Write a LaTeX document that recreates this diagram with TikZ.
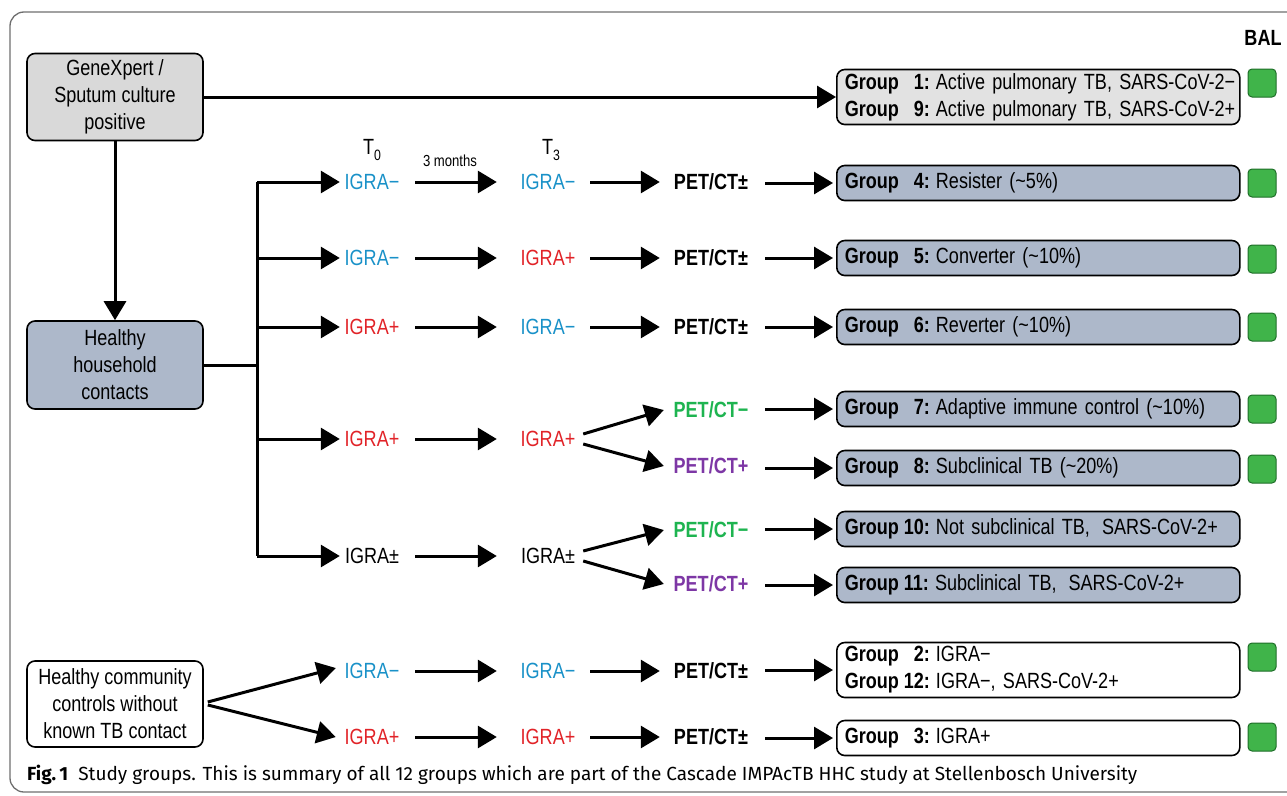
\documentclass[tikz,border=0pt]{standalone}
\usepackage{fontspec}
\setmainfont[FakeStretch=0.82]{Liberation Sans}
\newfontfamily\capfont{Fira Sans}
\usetikzlibrary{arrows.meta}
\definecolor{gfill}{RGB}{173,184,202}
\definecolor{gxfill}{RGB}{217,217,217}
\definecolor{g1fill}{RGB}{226,226,226}
\definecolor{balgreen}{RGB}{64,180,74}
\definecolor{baldark}{RGB}{30,110,40}
\definecolor{igneg}{RGB}{25,145,200}
\definecolor{igpos}{RGB}{225,35,40}
\definecolor{petneg}{RGB}{30,180,80}
\definecolor{petpos}{RGB}{125,55,165}
\definecolor{framec}{RGB}{110,110,110}
% one-digit and two-digit group labels
\newcommand{\gone}[1]{\hspace*{4pt}\textbf{Group\kern15pt#1:}\kern6pt}
\newcommand{\gtwo}[1]{\hspace*{4pt}\textbf{Group\kern5pt#1:}\kern6pt}
\newcommand{\mfont}{\fontsize{22}{27}\selectfont\spaceskip=5pt plus 1pt minus 1pt\relax}
\tikzset{
  x=1pt, y=-1pt,
  every node/.style={font=\mfont, inner sep=0pt},
  srcbox/.style={draw, line width=1.6pt, rounded corners=8pt, align=center, minimum width=176pt},
  gbox/.style={draw, line width=1.6pt, rounded corners=8pt, anchor=west, text width=395pt, inner xsep=4pt, align=left, minimum height=35pt, fill=gfill},
  balbox/.style={draw=baldark, fill=balgreen, line width=1pt, rounded corners=4pt, minimum size=28pt},
  lbl/.style={minimum width=60pt},
  pet/.style={minimum width=80pt, font=\mfont\bfseries},
  ln/.style={line width=3pt},
  arr/.style={line width=3pt, -{Triangle[length=19pt,width=22pt]}},
}
\begin{document}
\begin{tikzpicture}
\useasboundingbox (0,0) rectangle (1287,795);
\clip (0,0) rectangle (1287,795);
\draw[framec, line width=1.3pt, rounded corners=14pt] (10,12) rectangle (1320,792);
\node[font=\mfont\bfseries] (bal) at (1263,38) {BAL};

% source boxes
\node[srcbox, fill=gxfill, minimum height=87pt] (gx) at (115,97) {GeneXpert /\\Sputum culture\\positive};
\node[srcbox, fill=gfill, minimum height=88pt] (hh) at (115,365) {Healthy\\household\\contacts};
\node[srcbox, fill=white, minimum height=86pt] (hc) at (115,704) {Healthy community\\controls without\\known TB contact};

% group boxes
\node[gbox, fill=g1fill, minimum height=55pt] (g1) at (836,97) {\gone{1}Active pulmonary TB, SARS-CoV-2−\\\gone{9}Active pulmonary TB, SARS-CoV-2+};
\node[gbox] (g4) at (836,183) {\gone{4}Resister (\textasciitilde5\%)};
\node[gbox] (g5) at (836,258) {\gone{5}Converter (\textasciitilde10\%)};
\node[gbox] (g6) at (836,327) {\gone{6}Reverter (\textasciitilde10\%)};
\node[gbox] (g7) at (836,409) {\gone{7}Adaptive immune control (\textasciitilde10\%)};
\node[gbox] (g8) at (836,468) {\gone{8}Subclinical TB (\textasciitilde20\%)};
\node[gbox] (g10) at (836,529) {\gtwo{10}Not subclinical TB,\kern12pt SARS-CoV-2+};
\node[gbox] (g11) at (836,585) {\gtwo{11}Subclinical TB,\kern12pt SARS-CoV-2+};
\node[gbox, fill=white, minimum height=55pt] (g2) at (836,670) {\gone{2}IGRA−\\\gtwo{12}IGRA−, SARS-CoV-2+};
\node[gbox, fill=white] (g3) at (836,738) {\gone{3}IGRA+};

% BAL squares
\node[balbox] (b1) at (1262,83) {};
\node[balbox] (b4) at (1262,183) {};
\node[balbox] (b5) at (1262,259) {};
\node[balbox] (b6) at (1262,327) {};
\node[balbox] (b7) at (1262,409) {};
\node[balbox] (b8) at (1262,469) {};
\node[balbox] (b2) at (1262,657) {};
\node[balbox] (b3) at (1262,737) {};

% headings
\node (t0) at (372,150) {T\raisebox{-0.45ex}{\fontsize{15}{15}\selectfont 0}};
\node (t3) at (551,150) {T\raisebox{-0.45ex}{\fontsize{15}{15}\selectfont 3}};
\node[font=\fontsize{16}{18}\selectfont] (mo) at (450,161) {3 months};

% row labels
\node[lbl, text=igneg] (a1) at (372,182) {IGRA−};
\node[lbl, text=igneg] (a2) at (548,182) {IGRA−};
\node[pet] (a3) at (711,182) {PET/CT±};
\node[lbl, text=igneg] (r1) at (372,258) {IGRA−};
\node[lbl, text=igpos] (r2) at (548,258) {IGRA+};
\node[pet] (r3) at (711,258) {PET/CT±};
\node[lbl, text=igpos] (c1) at (372,327) {IGRA+};
\node[lbl, text=igneg] (c2) at (548,327) {IGRA−};
\node[pet] (c3) at (711,327) {PET/CT±};
\node[lbl, text=igpos] (d1) at (372,439) {IGRA+};
\node[lbl, text=igpos] (d2) at (548,439) {IGRA+};
\node[pet, text=petneg] (d3) at (711,410) {PET/CT−};
\node[pet, text=petpos] (d4) at (711,466) {PET/CT+};
\node[lbl] (e1) at (372,556) {IGRA±};
\node[lbl] (e2) at (548,556) {IGRA±};
\node[pet, text=petneg] (e3) at (711,530) {PET/CT−};
\node[pet, text=petpos] (e4) at (711,584) {PET/CT+};
\node[lbl, text=igneg] (f1) at (372,671) {IGRA−};
\node[lbl, text=igneg] (f2) at (548,671) {IGRA−};
\node[pet] (f3) at (711,671) {PET/CT±};
\node[lbl, text=igpos] (h1) at (372,737) {IGRA+};
\node[lbl, text=igpos] (h2) at (548,737) {IGRA+};
\node[pet] (h3) at (711,737) {PET/CT±};

% trunk
\coordinate (tA) at (257,182);
\coordinate (tB) at (257,258);
\coordinate (tC) at (257,327);
\coordinate (tD) at (257,439);
\coordinate (tE) at (257,556);
\coordinate (tH) at (257,365);

\draw[arr] (gx.east) -- (g1.west);
\draw[arr] (gx.south) -- (hh.north);
\draw[ln] (hh.east) -- (tH);
\draw[ln] (tA) -- (tE);
\foreach \t/\n in {tA/a1, tB/r1, tC/c1, tD/d1, tE/e1}
  \draw[arr, shorten >=2pt] (\t) -- (\n.west);

% T0 -> T3
\foreach \p/\q in {a1/a2, r1/r2, c1/c2, d1/d2, e1/e2, f1/f2, h1/h2}
  \draw[arr] ([xshift=13pt]\p.east) -- ([xshift=-21pt]\q.west);
% T3 -> PET
\foreach \p/\q in {a2/a3, r2/r3, c2/c3, f2/f3, h2/h3}
  \draw[arr] ([xshift=12pt]\p.east) -- ([xshift=-11pt]\q.west);
\draw[arr] ([xshift=5pt,yshift=5pt]d2.east) -- ([xshift=-7pt]d3.west);
\draw[arr] ([xshift=5pt,yshift=-5pt]d2.east) -- ([xshift=-7pt]d4.west);
\draw[arr] ([xshift=5pt,yshift=5pt]e2.east) -- ([xshift=-7pt]e3.west);
\draw[arr] ([xshift=5pt,yshift=-5pt]e2.east) -- ([xshift=-7pt]e4.west);
% PET -> groups
\foreach \p/\q in {a3/g4, r3/g5, c3/g6, d3/g7, d4/g8, e3/g10, e4/g11, f3/g2, h3/g3}
  \draw[arr] ([xshift=14pt]\p.east |- \q.west) -- ([xshift=-3pt]\q.west);
% community
\draw[arr] ([xshift=4pt,yshift=2pt]hc.east) -- ([xshift=-6pt,yshift=3pt]f1.west);
\draw[arr] ([xshift=4pt,yshift=-1pt]hc.east) -- ([xshift=-6pt]h1.west);

% caption
\node[anchor=west, font=\capfont\fontsize{19}{22}\selectfont] (cap) at (27,775) {\textbf{Fig.\,1}\ \ Study groups. This is summary of all 12 groups which are part of the Cascade IMPAcTB HHC study at Stellenbosch University};
\end{tikzpicture}
\end{document}
